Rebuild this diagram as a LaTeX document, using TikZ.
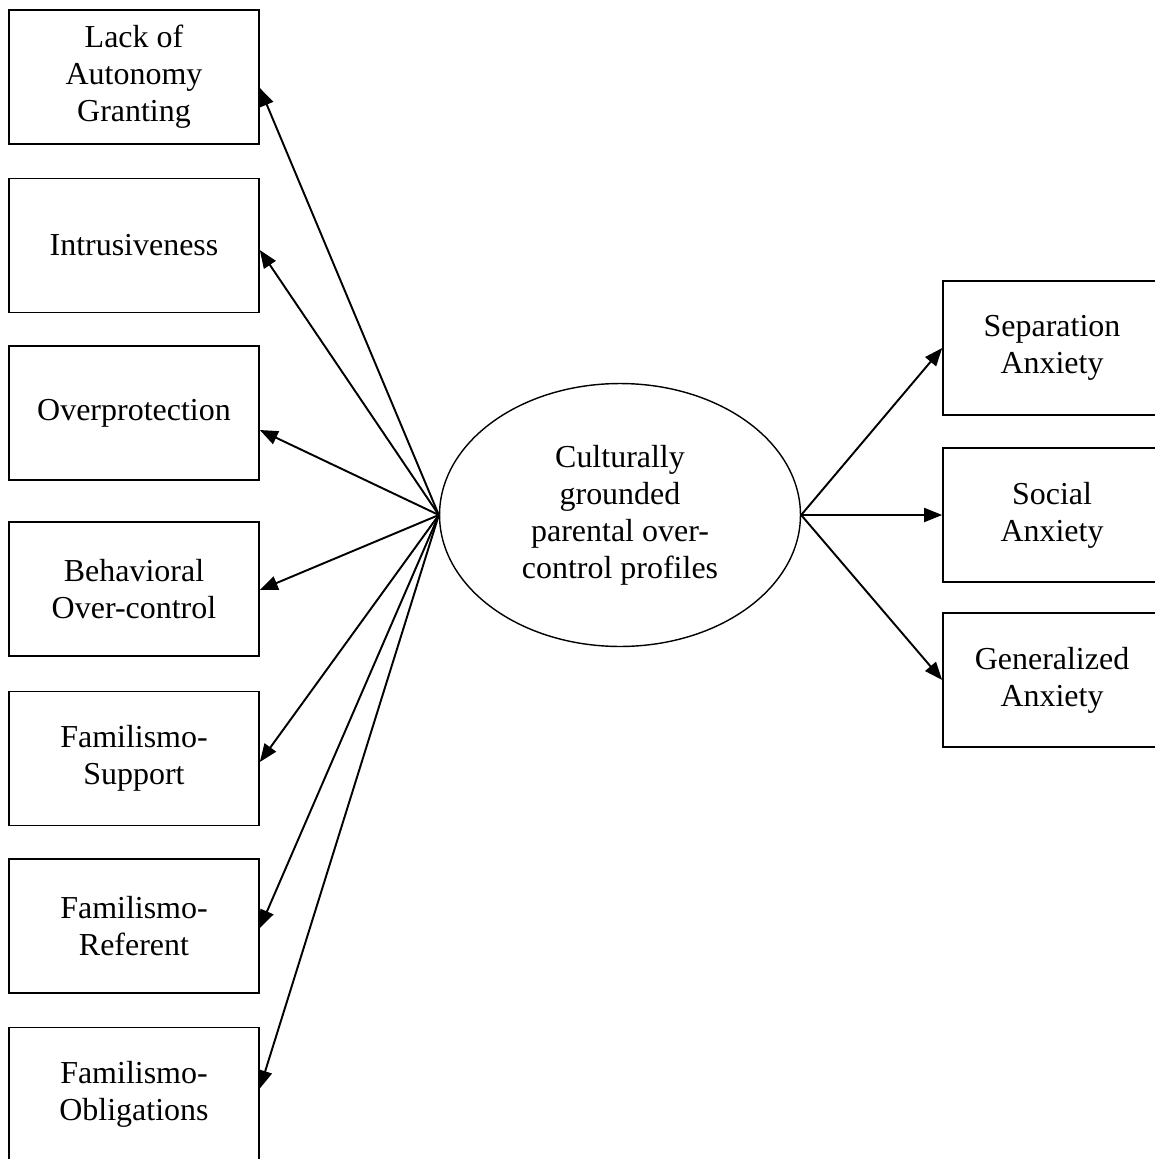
\documentclass[tikz,border=0pt]{standalone}
\usepackage{fontspec}
\setmainfont{Liberation Serif}
\usetikzlibrary{arrows.meta,shapes.geometric}

\tikzset{
  box/.style={draw,line width=0.95pt,inner sep=0pt,align=center,minimum height=2.68cm},
  leftbox/.style={box,minimum width=5cm},
  rightbox/.style={box,minimum width=4.36cm},
  latent/.style={draw,ellipse,line width=0.8pt,inner sep=0pt,align=center,minimum width=7.22cm,minimum height=5.26cm},
  conn/.style={line width=1.1pt,-{Triangle[length=0.36cm,width=0.28cm]}}
}

\begin{document}
\begin{tikzpicture}[x=0.02cm,y=-0.02cm,font=\fontsize{18.2}{21}\selectfont]
  \useasboundingbox (0,0) rectangle (1154,1159);

  % indicators
  \foreach \n/\y/\t in {lack/77/{Lack of\\Autonomy\\Granting},intr/245.5/{Intrusiveness},overp/413/{Overprotection},behav/589/{Behavioral\\Over-control},famsup/758.5/{Familismo-\\Support},famref/926/{Familismo-\\Referent},famobl/1094.5/{Familismo-\\Obligations}}{
    \node[leftbox] (\n) at (134,\y) {\t};
  }

  \node[latent] (prof) at (620,515) {Culturally\\grounded\\parental over-\\control profiles};

  % outcomes
  \node[rightbox] (sep) at (1052,348) {Separation\\Anxiety};
  \node[rightbox] (soc) at (1052,515) {Social\\Anxiety};
  \node[rightbox] (gen) at (1052,680) {Generalized\\Anxiety};

  \foreach \n/\s in {lack/-0.22cm,intr/-0.09cm,overp/-0.34cm,behav/-0.02cm,famsup/-0.07cm,famref/-0.04cm,famobl/0.12cm}{
    \draw[conn] (prof.west) -- ([yshift=\s]\n.east);
  }
  \foreach \n in {sep,soc,gen}{
    \draw[conn] (prof.east) -- (\n.west);
  }
\end{tikzpicture}
\end{document}
